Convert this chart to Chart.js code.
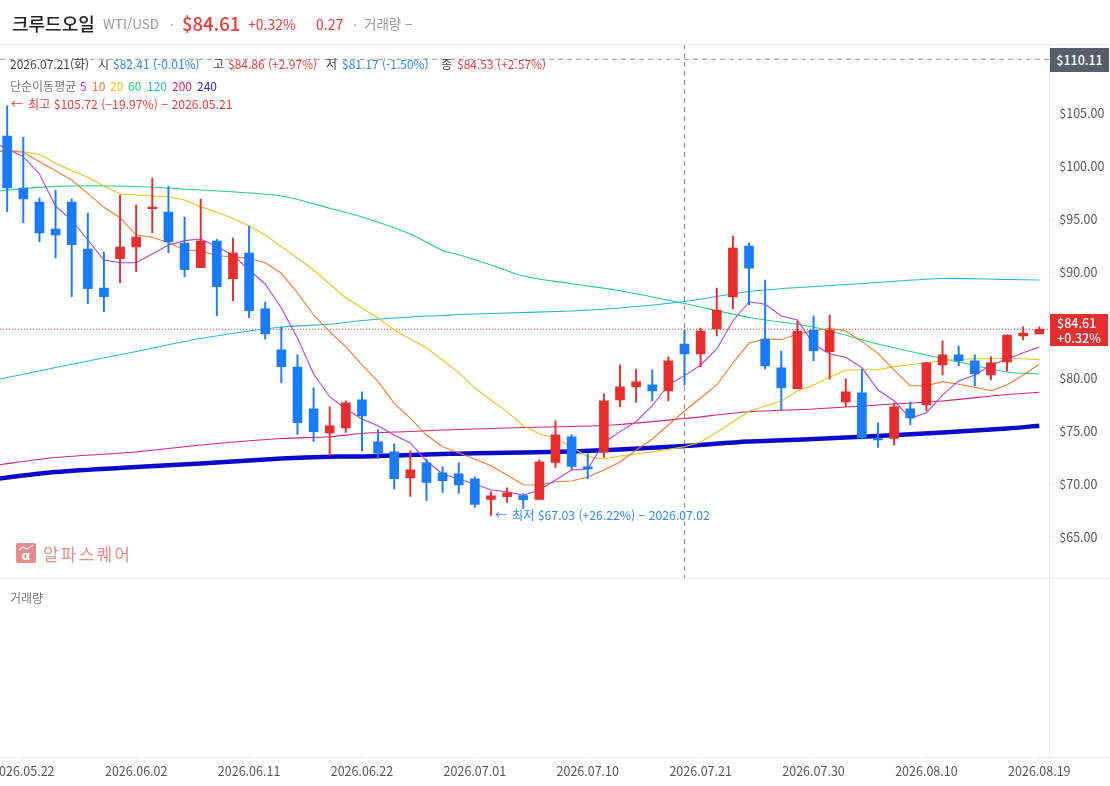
<!DOCTYPE html>
<html lang="ko">
<head>
<meta charset="utf-8">
<title>크루드오일 WTI/USD</title>
<script src="https://cdn.jsdelivr.net/npm/chart.js@4"></script>
<style>
  html, body { margin: 0; padding: 0; background: #fff; overflow: hidden; }
  body { width: 1110px; height: 786px; position: relative; font-family: "Noto Sans CJK KR", "Noto Sans", sans-serif; }
  canvas { position: absolute; left: 0; top: 0; }
  .t { position: absolute; white-space: nowrap; transform: translateY(-50%); font-size: 12px; line-height: 1; }
  .rule { position: absolute; left: 0; width: 1110px; height: 1px; background: #ececec; }
  .tag { position: absolute; left: 1050px; color: #fff; font-size: 12.5px; box-sizing: border-box; }
  .red { color: #ec3b3b; } .blue { color: #2f86ff; } .gray { color: #999; } .dark { color: #444; }
</style>
</head>
<body>
<canvas id="chart" width="1110" height="786"></canvas>

<div class="rule" style="top:44px"></div>
<div class="rule" style="top:578px"></div>
<div class="rule" style="top:757px"></div>

<span class="t" style="left:12px;top:23px;font-size:18px;font-weight:500;color:#222">크루드오일</span>
<span class="t gray" style="left:103px;top:24px;font-size:13.5px">WTI/USD</span>
<span class="t gray" style="left:170px;top:24px;font-size:13px">·</span>
<span class="t red" style="left:182px;top:23px;font-size:18.5px;font-weight:500">$84.61</span>
<span class="t red" style="left:248px;top:24px;font-size:14px">+0.32%</span>
<span class="t red" style="left:316px;top:24px;font-size:14px">0.27</span>
<span class="t gray" style="left:353px;top:24px;font-size:13px">·</span>
<span class="t gray" style="left:364px;top:24px;font-size:13.5px">거래량 −</span>

<span class="t dark" style="left:10px;top:64px">2026.07.21(화)</span>
<span class="t dark" style="left:98px;top:64px">시</span>
<span class="t blue" style="left:113px;top:64px">$82.41 (-0.01%)</span>
<span class="t dark" style="left:213px;top:64px">고</span>
<span class="t red" style="left:228px;top:64px">$84.86 (+2.97%)</span>
<span class="t dark" style="left:326px;top:64px">저</span>
<span class="t blue" style="left:342px;top:64px">$81.17 (-1.50%)</span>
<span class="t dark" style="left:441px;top:64px">종</span>
<span class="t red" style="left:457px;top:64px">$84.53 (+2.57%)</span>

<span class="t" style="left:10px;top:86px;color:#777">단순이동평균</span>
<span class="t" style="left:80px;top:86px;color:#b23fe0">5</span>
<span class="t" style="left:92px;top:86px;color:#ef7a2a">10</span>
<span class="t" style="left:110px;top:86px;color:#e8c31e">20</span>
<span class="t" style="left:128px;top:86px;color:#23d27f">60</span>
<span class="t" style="left:147px;top:86px;color:#22b8d8">120</span>
<span class="t" style="left:172px;top:86px;color:#d6227a">200</span>
<span class="t" style="left:197px;top:86px;color:#2a2ad8">240</span>

<span class="t red" style="left:11px;top:104px">←</span>
<span class="t red" style="left:28px;top:104px;font-size:12.2px">최고 $105.72 (−19.97%) − 2026.05.21</span>
<span class="t blue" style="left:495px;top:515px">←</span>
<span class="t blue" style="left:512px;top:515px;font-size:12.2px">최저 $67.03 (+26.22%) − 2026.07.02</span>

<svg style="position:absolute;left:16px;top:543px" width="20" height="20" viewBox="0 0 20 20">
  <rect width="20" height="20" rx="2" fill="#e98b8b"/>
  <path d="M3 7 L7 4 L11 6 L17 2" fill="none" stroke="#fff" stroke-width="1.2"/>
  <text x="10" y="16.5" text-anchor="middle" font-size="13" font-weight="700" fill="#fff" font-family="DejaVu Sans">α</text>
</svg>
<span class="t" style="left:43px;top:553px;font-size:17px;letter-spacing:2.2px;color:#e98b8b">알파스퀘어</span>

<span class="t" style="left:10px;top:598px;color:#777">거래량</span>

<div class="tag" style="top:48px;width:59px;height:24px;background:#565d6b;line-height:24px;text-align:center;font-weight:500">$110.11</div>
<div class="tag" style="top:314px;width:58px;height:32px;background:#e62e2e;line-height:15px;padding:1px 0 0 7px;font-weight:500">$84.61<br>+0.32%</div>

<script>
const RED = '#e62e2e';
const BLUE = '#1b7bff';

const opens = [102.85, 97.94, 96.62, 94.07, 96.62, 92.19, 88.51, 91.27, 92.40, 95.99, 95.68, 92.75, 90.42, 92.94, 89.38, 91.81, 86.53, 82.66, 81.05, 77.09, 74.83, 75.30, 77.94, 73.98, 73.03, 70.58, 72.00, 71.05, 70.96, 70.49, 68.53, 68.79, 68.91, 68.53, 72.03, 74.45, 71.62, 73.03, 77.94, 79.17, 79.36, 78.79, 83.22, 82.28, 84.64, 87.66, 92.47, 83.69, 80.96, 79.01, 84.54, 82.50, 77.75, 78.60, 74.29, 74.29, 77.09, 77.47, 81.24, 82.19, 81.62, 80.30, 81.53, 83.98, 84.17];
const highs = [105.72, 102.75, 97.00, 97.75, 96.93, 95.58, 91.90, 97.28, 96.34, 98.88, 98.13, 95.20, 96.90, 93.11, 93.22, 94.36, 87.19, 84.80, 82.19, 79.07, 77.28, 77.85, 78.69, 75.11, 73.79, 73.13, 72.34, 71.62, 72.00, 70.68, 69.26, 69.64, 69.07, 72.28, 75.96, 74.64, 72.85, 78.51, 81.24, 80.86, 80.77, 82.00, 84.54, 84.73, 88.51, 93.41, 92.75, 89.26, 82.56, 85.39, 85.86, 85.96, 79.92, 80.86, 75.77, 77.66, 77.75, 81.50, 83.51, 83.03, 82.19, 82.00, 84.07, 84.83, 84.83];
const lows = [95.71, 94.67, 92.88, 91.36, 87.69, 87.03, 86.27, 89.01, 90.04, 93.72, 91.84, 89.57, 90.42, 85.89, 87.31, 85.71, 83.67, 79.57, 74.67, 74.01, 72.69, 74.86, 73.13, 72.40, 69.54, 68.82, 68.44, 69.19, 69.10, 67.78, 67.03, 68.25, 67.69, 68.53, 71.55, 71.31, 70.51, 72.50, 77.31, 77.69, 77.85, 77.85, 79.36, 81.08, 83.98, 86.53, 86.91, 80.86, 77.00, 79.01, 81.65, 79.89, 77.31, 74.26, 73.44, 73.69, 75.58, 76.90, 80.30, 81.15, 79.26, 79.83, 80.68, 83.60, 84.17];
const closes = [97.97, 96.93, 93.72, 93.53, 92.59, 88.44, 87.69, 92.37, 93.32, 96.15, 92.87, 90.23, 92.94, 88.63, 91.81, 86.36, 84.17, 81.08, 75.80, 74.95, 75.49, 77.66, 76.43, 72.91, 70.49, 71.34, 70.14, 70.30, 69.92, 68.06, 68.88, 69.17, 68.51, 72.09, 74.64, 71.65, 71.43, 77.85, 79.17, 79.64, 78.79, 81.62, 82.28, 84.45, 86.43, 92.28, 90.39, 81.15, 79.07, 84.45, 82.59, 84.54, 78.69, 74.38, 74.17, 77.28, 76.24, 81.43, 82.19, 81.62, 80.39, 81.43, 84.07, 84.26, 84.61];

// short averages, one value per candle, first one sits just left of the plot
const ma5 = [102.39, 101.64, 100.91, 99.28, 96.25, 94.93, 93.04, 91.15, 90.90, 90.90, 91.72, 92.57, 92.98, 93.14, 92.41, 91.63, 90.21, 88.89, 86.62, 83.79, 80.39, 78.24, 77.08, 76.14, 75.50, 74.62, 73.87, 72.17, 70.94, 70.47, 70.00, 69.43, 69.27, 68.93, 69.43, 70.37, 71.32, 71.41, 73.87, 74.94, 75.88, 77.39, 79.35, 80.23, 81.24, 82.75, 85.39, 87.21, 86.97, 85.86, 85.49, 83.22, 82.27, 81.96, 80.98, 78.87, 77.86, 76.20, 76.73, 78.40, 79.73, 80.29, 81.24, 81.77, 82.40, 82.94];
const ma10 = [101.35, 101.45, 101.33, 100.44, 99.59, 98.71, 97.45, 96.13, 95.15, 93.51, 93.30, 92.79, 92.10, 92.03, 91.56, 91.46, 91.31, 90.90, 89.90, 88.04, 85.96, 84.38, 82.96, 81.24, 79.66, 77.62, 76.20, 74.62, 73.52, 72.95, 72.33, 71.72, 70.85, 69.93, 69.90, 70.21, 70.28, 70.66, 71.32, 72.07, 73.21, 74.25, 75.57, 76.89, 78.12, 79.35, 81.42, 83.31, 83.69, 83.63, 84.16, 84.45, 84.70, 84.45, 83.44, 82.34, 80.76, 79.28, 79.28, 79.66, 79.41, 79.13, 78.81, 79.35, 80.29, 81.30];
const ma20 = [101.45, 101.54, 101.38, 101.14, 100.29, 99.59, 98.96, 98.14, 97.39, 97.29, 97.20, 97.13, 96.82, 96.19, 95.66, 95.09, 94.36, 93.51, 92.41, 91.34, 90.21, 88.89, 87.56, 86.62, 85.67, 84.54, 83.69, 82.84, 81.71, 80.51, 79.06, 77.93, 76.83, 75.50, 74.72, 74.34, 73.49, 72.58, 72.36, 72.64, 72.83, 73.05, 73.27, 73.52, 73.96, 74.88, 75.88, 76.86, 77.36, 77.84, 78.78, 79.35, 80.07, 80.74, 80.79, 80.79, 81.08, 81.26, 81.45, 81.64, 81.77, 81.83, 81.83, 81.87, 81.83, 81.74];

// long averages are read only at these candles
const longIdx = [-1, 3, 8, 12, 17, 20, 22, 25, 27, 28, 30, 32, 35, 38, 42, 46, 50, 54, 58, 62, 64];
const ma60 = [97.62, 98.11, 98.10, 97.76, 97.20, 96.04, 95.21, 93.61, 92.05, 91.64, 90.68, 89.64, 88.91, 88.25, 87.04, 85.72, 84.82, 83.22, 81.85, 80.57, 80.39];
const ma120 = [79.73, 81.00, 82.51, 83.74, 84.82, 85.08, 85.44, 85.77, 85.91, 86.00, 86.10, 86.19, 86.34, 86.62, 87.23, 88.18, 88.65, 89.03, 89.41, 89.31, 89.26];
const ma200 = [71.70, 72.50, 73.02, 73.68, 74.29, 74.46, 74.77, 74.96, 75.10, 75.14, 75.24, 75.33, 75.43, 75.62, 76.18, 76.82, 77.08, 77.46, 77.84, 78.45, 78.66];
const ma240 = [70.42, 71.13, 71.60, 71.93, 72.40, 72.58, 72.59, 72.74, 72.83, 72.86, 72.92, 72.97, 73.07, 73.26, 73.59, 74.01, 74.25, 74.53, 74.86, 75.24, 75.50];

const priceTicks = [105, 100, 95, 90, 85, 80, 75, 70, 65];
const dateIdx = [1, 8, 15, 22, 29, 36, 43, 50, 57, 64];
const dateLabels = ['2026.05.22', '2026.06.02', '2026.06.11', '2026.06.22', '2026.07.01', '2026.07.10', '2026.07.21', '2026.07.30', '2026.08.10', '2026.08.19'];

const prevHigh = 110.11;
const lastPrice = 84.61;
const crossIdx = 42;

const xMin = -0.445;
const xMax = 64.62;
const yMax = 111.555;
const yMin = 44.21;
const paneBottom = 61.12;

const candleColors = closes.map((c, i) => (c >= opens[i] ? RED : BLUE));

function shortLine(values, color) {
    return {
        type: 'line',
        data: values.map((v, i) => ({ x: i - 1, y: v })),
        borderColor: color,
        borderWidth: 1.1,
        pointRadius: 0,
        tension: 0,
        order: 5
    };
}

function longLine(values, color, width) {
    return {
        type: 'line',
        data: values.map((v, i) => ({ x: longIdx[i], y: v })),
        borderColor: color,
        borderWidth: width,
        pointRadius: 0,
        tension: 0.3,
        order: 5
    };
}

function guide(points, color, dash) {
    return {
        type: 'line',
        data: points,
        borderColor: color,
        borderWidth: 1,
        borderDash: dash,
        pointRadius: 0,
        order: 6
    };
}

new Chart(document.getElementById('chart'), {
    type: 'bar',
    data: {
        datasets: [
            {
                data: lows.map((l, i) => ({ x: i, y: [l, highs[i]] })),
                backgroundColor: candleColors,
                barThickness: 1.3,
                grouped: false,
                order: 2
            },
            {
                data: opens.map((o, i) => ({ x: i, y: [o, closes[i]] })),
                backgroundColor: candleColors,
                barThickness: 9,
                grouped: false,
                order: 1
            },
            shortLine(ma5, '#b23fe0'),
            shortLine(ma10, '#ef7a2a'),
            shortLine(ma20, '#e8c31e'),
            longLine(ma60, '#23d27f', 1.1),
            longLine(ma120, '#22b8d8', 1.1),
            longLine(ma200, '#d6227a', 1.1),
            longLine(ma240, '#0a0ac8', 4.5),
            guide([{ x: xMin, y: prevHigh }, { x: xMax, y: prevHigh }], '#999', [5, 4]),
            guide([{ x: xMin, y: lastPrice }, { x: xMax, y: lastPrice }], '#d83030', [1, 2]),
            guide([{ x: crossIdx, y: yMax }, { x: crossIdx, y: paneBottom }], '#888', [5, 4])
        ]
    },
    options: {
        responsive: false,
        animation: false,
        layout: { padding: { top: 44 } },
        plugins: {
            legend: { display: false },
            tooltip: { enabled: false }
        },
        scales: {
            x: {
                type: 'linear',
                min: xMin,
                max: xMax,
                offset: false,
                afterBuildTicks: scale => {
                    scale.ticks = dateIdx.map(v => ({ value: v }));
                },
                afterFit: scale => {
                    scale.height = 29;
                    scale.paddingLeft = 0;
                    scale.paddingRight = 0;
                },
                grid: { drawOnChartArea: false, offset: false, color: '#eee', tickLength: 6 },
                border: { color: '#eee' },
                ticks: {
                    autoSkip: false,
                    maxRotation: 0,
                    padding: 1,
                    color: '#555',
                    font: { family: '"Noto Sans CJK KR"', size: 12.5 },
                    callback: value => dateLabels[dateIdx.indexOf(value)]
                }
            },
            y: {
                position: 'right',
                min: yMin,
                max: yMax,
                beginAtZero: false,
                afterBuildTicks: scale => {
                    scale.ticks = priceTicks.map(v => ({ value: v }));
                },
                afterFit: scale => {
                    scale.width = 60.7;
                    scale.paddingTop = 0;
                    scale.paddingBottom = 0;
                },
                grid: { drawOnChartArea: false, color: '#eee', tickLength: 6 },
                border: { color: '#eee' },
                ticks: {
                    crossAlign: 'near',
                    padding: 4,
                    color: '#555',
                    font: { family: '"Noto Sans CJK KR"', size: 12.5 },
                    callback: value => '$' + value.toFixed(2)
                }
            }
        }
    }
});
</script>
</body>
</html>
